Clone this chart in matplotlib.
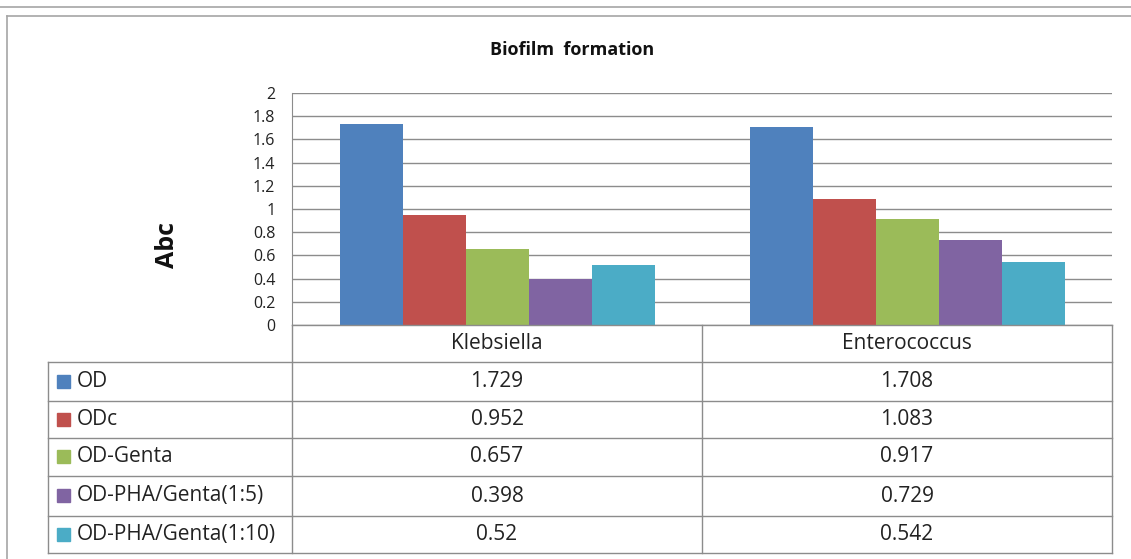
import matplotlib

matplotlib.use("Agg")
import matplotlib.pyplot as plt
from matplotlib.lines import Line2D
from matplotlib.patches import Rectangle
import numpy as np

plt.rcParams["font.family"] = ["Open Sans", "DejaVu Sans"]

# Data table values
categories = ["Klebsiella", "Enterococcus"]
series_names = ["OD", "ODc", "OD-Genta", "OD-PHA/Genta(1:5)", "OD-PHA/Genta(1:10)"]
od = [1.729, 1.708]
odc = [0.952, 1.083]
od_genta = [0.657, 0.917]
od_pha_15 = [0.398, 0.729]
od_pha_110 = [0.52, 0.542]
series_values = [od, odc, od_genta, od_pha_15, od_pha_110]
colors = ["#4F81BD", "#C0504D", "#9BBB59", "#8064A2", "#4BACC6"]
y_ticks = [0, 0.2, 0.4, 0.6, 0.8, 1, 1.2, 1.4, 1.6, 1.8, 2]

W, H = 1131, 559
fig = plt.figure(figsize=(W / 100, H / 100), dpi=100)
line_col = "#8C8C8C"
text_col = "#222222"


def fx(px):
    return px / W


def fy(py):
    return 1 - py / H


# outer frame lines
fig.add_artist(Line2D([0, 1], [fy(7), fy(7)], color="#A6A6A6", lw=1.2))
fig.add_artist(Line2D([fx(7), 1], [fy(16), fy(16)], color="#A6A6A6", lw=1.2))
fig.add_artist(Line2D([fx(7), fx(7)], [fy(16), 0], color="#A6A6A6", lw=1.2))

# plot area
left, right, top, base = 292, 1112, 93, 325
ax = fig.add_axes([fx(left), fy(base), fx(right - left), (base - top) / H])
n = len(series_names)
bw = 63 / 410
x = np.arange(len(categories))
for i, (vals, c) in enumerate(zip(series_values, colors)):
    ax.bar(x + (i - (n - 1) / 2) * bw, vals, width=bw, color=c, zorder=3)
ax.set_xlim(-0.5, len(categories) - 0.5)
ax.set_ylim(0, 2)
ax.set_yticks(y_ticks)
ax.set_yticklabels([f"{t:g}" for t in y_ticks], fontsize=11.5, color=text_col)
ax.set_xticks([])
ax.tick_params(axis="y", length=0, pad=12)
ax.grid(axis="y", color=line_col, lw=1, zorder=0)
for s in ["top", "right", "bottom"]:
    ax.spines[s].set_visible(False)
ax.spines["left"].set_color(line_col)

fig.text(fx(572), fy(50), "Biofilm  formation", ha="center", va="center",
         fontsize=13, fontweight="bold", color="#111111")
fig.text(fx(167), fy(245), "Abc", ha="center", va="center", rotation=90,
         fontsize=18, fontweight="bold", color="#111111")

# data table beneath the bars
col_x = [48, 292, 702, 1112]
row_y = [325, 362, 401, 438, 476, 516, 553]


def hline(x0, x1, y):
    fig.add_artist(Line2D([fx(x0), fx(x1)], [fy(y), fy(y)], color=line_col, lw=1))


def vline(x, y0, y1):
    fig.add_artist(Line2D([fx(x), fx(x)], [fy(y0), fy(y1)], color=line_col, lw=1))


hline(col_x[1], col_x[3], row_y[0])
for y in row_y[1:]:
    hline(col_x[0], col_x[3], y)
vline(col_x[0], row_y[1], row_y[-1])
for xx in col_x[1:]:
    vline(xx, row_y[0], row_y[-1])

for j, cat in enumerate(categories):
    cx = (col_x[j + 1] + col_x[j + 2]) / 2
    fig.text(fx(cx), fy((row_y[0] + row_y[1]) / 2), cat, ha="center", va="center",
             fontsize=15, color=text_col)

for i, (name, vals, c) in enumerate(zip(series_names, series_values, colors)):
    cy = (row_y[i + 1] + row_y[i + 2]) / 2
    fig.add_artist(Rectangle((fx(57), fy(cy + 6)), fx(13), 13 / H, color=c))
    fig.text(fx(77), fy(cy), name, ha="left", va="center", fontsize=15, color=text_col)
    for j, v in enumerate(vals):
        cx = (col_x[j + 1] + col_x[j + 2]) / 2
        fig.text(fx(cx), fy(cy), f"{v:g}", ha="center", va="center",
                 fontsize=15, color=text_col)

fig.savefig("out.png", dpi=100)
